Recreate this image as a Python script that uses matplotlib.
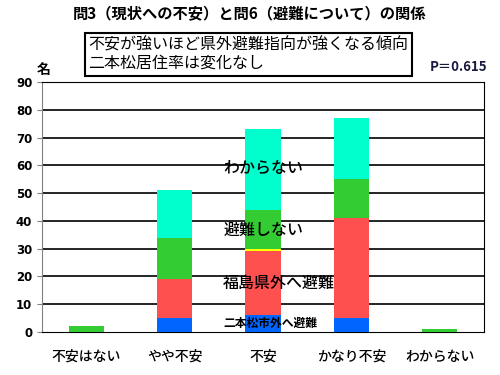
import numpy as np
import matplotlib.pyplot as plt

plt.rcParams['font.family'] = ['Noto Sans CJK JP', 'DejaVu Sans']

categories = ['不安はない', 'やや不安', '不安', 'かなり不安', 'わからない']
series_names = ['二本松市外へ避難', '福島県外へ避難', 'その他', '避難しない', 'わからない']
series_colors = ['#0066FF', '#FF5050', '#FFFF00', '#33CC33', '#00FFCC']
values = [
    [0, 5, 6, 5, 0],      # 二本松市外へ避難
    [0, 14, 23, 36, 0],   # 福島県外へ避難
    [0, 0, 1, 0, 0],      # その他
    [2, 15, 14, 14, 1],   # 避難しない
    [0, 17, 29, 22, 0],   # わからない
]

fig = plt.figure(figsize=(5, 3.75), dpi=100)
ax = fig.add_axes([0.084, 0.1147, 0.884, 0.6666])

x = np.arange(len(categories))
bottom = np.zeros(len(categories))
for name, col, v in zip(series_names, series_colors, values):
    v = np.array(v, dtype=float)
    ax.bar(x, v, 0.4, bottom=bottom, color=col, label=name, zorder=3)
    bottom += v

ax.set_xlim(-0.5, 4.5)
ax.set_ylim(0, 90)
ax.set_yticks(range(0, 91, 10))
for yv in range(10, 91, 10):
    ax.axhline(yv, color='black', lw=1.2, zorder=1)
ax.set_xticks(x)
ax.set_xticklabels(categories, fontsize=10, fontweight='medium')
ax.tick_params(axis='x', length=0, pad=13)
ax.tick_params(axis='y', colors='#808080', labelcolor='black', labelsize=8.5)
for lab in ax.get_yticklabels():
    lab.set_fontweight('bold')
    lab.set_family('DejaVu Sans')
ax.spines['left'].set_color('#808080')
ax.spines['right'].set_color('black')
ax.spines['top'].set_color('black')
ax.spines['bottom'].set_color('black')

# series labels inside the plot
ax.text(1.55, 59, 'わからない', fontsize=11.5, fontweight='medium', va='center', ha='left', zorder=5)
ax.text(1.55, 36.7, '避難しない', fontsize=11.5, fontweight='medium', va='center', ha='left', zorder=5)
ax.text(1.55, 17.6, '福島県外へ避難', fontsize=11.5, fontweight='medium', va='center', ha='left', zorder=5)
ax.text(1.55, 3.0, '二本松市外へ避難', fontsize=8.5, fontweight='bold', va='center', ha='left', zorder=5)

fig.text(0.5, 0.965, '問3（現状への不安）と問6（避難について）の関係', fontsize=11,
         fontweight='bold', ha='center', va='center')
fig.text(0.177, 0.855, '不安が強いほど県外避難指向が強くなる傾向\n二本松居住率は変化なし',
         fontsize=11.5, ha='left', va='center', linespacing=1.1,
         bbox=dict(boxstyle='square,pad=0.25', fc='white', ec='black', lw=1.5))
fig.text(0.975, 0.822, 'P＝0.615', fontsize=9.5, fontweight='bold', color='#1a1a40',
         ha='right', va='center')
fig.text(0.088, 0.813, '名', fontsize=10, fontweight='bold', ha='center', va='center')

fig.savefig('out.png', dpi=100)
